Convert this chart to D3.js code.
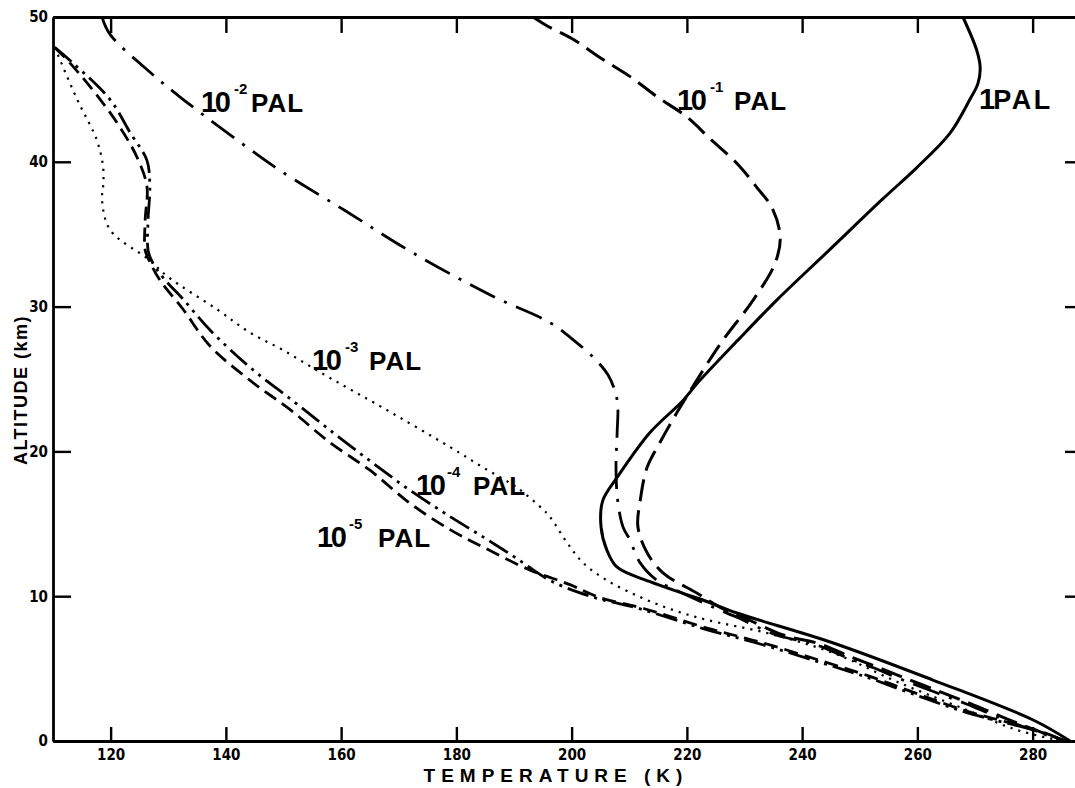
<!DOCTYPE html>
<html>
<head>
<meta charset="utf-8">
<script src="https://cdn.jsdelivr.net/npm/d3@7"></script>
<style>
  html, body { margin: 0; padding: 0; background: #fff; }
  svg { display: block; }
</style>
</head>
<body>
<svg id="chart" width="1075" height="788"></svg>
<script>
// ---- data: [temperature K, altitude km] ----
const pal1 = [[267.9,50],[270.3,47.7],[270.9,46.5],[270.5,45.4],[269.1,44.3],[265.7,42.0],[259.9,39.6],[253.9,37.4],[244.7,33.9],[235.6,30.45],[228.9,27.7],[221.8,24.7],[219.3,23.5],[213.6,21.3],[207.9,18.2],[205.4,16.6],[205.1,14.8],[206.1,13.2],[207.9,12.0],[213.6,11.0],[219.3,10.2],[222.8,9.74],[228.7,8.84],[245.4,6.77],[262.7,4.21],[280.1,1.45],[286.5,0]];
const pal1e1 = [[193.3,50],[195.7,49.4],[200.1,48.5],[204.9,47.2],[210.1,45.9],[214.8,44.5],[220.0,43.1],[224.0,41.6],[228.9,39.8],[232.2,38.2],[234.8,36.8],[236.2,34.8],[235.3,33.0],[231.5,30.45],[226.3,27.7],[222.8,25.6],[218.3,22.7],[215.3,20.6],[213.1,18.9],[211.9,16.6],[211.5,14.8],[213.1,13.0],[215.9,11.6],[221.8,10.2],[225.7,9.25],[230.1,8.49],[236.7,7.32],[243.1,6.70],[248.5,5.80],[253.5,5.04],[258.7,4.21],[264.1,3.38],[269.3,2.56],[274.3,1.73],[279.5,0.90],[285.8,0]];
const pal1e2 = [[118.5,50],[119.9,48.8],[126.8,46.2],[132.6,44.3],[143.7,41.0],[149.4,39.4],[160.8,36.6],[172.5,33.7],[186.4,30.7],[196.2,28.9],[200.6,27.6],[204.0,26.4],[206.3,25.3],[207.5,24.2],[208.0,23.2],[207.9,21.3],[207.7,18.9],[208.0,16.6],[208.9,14.8],[210.1,13.9],[211.9,12.3],[214.8,11.1],[219.3,10.2],[224.5,9.25],[229.0,8.49],[235.5,7.32],[242.0,6.70],[247.5,5.80],[252.5,5.04],[257.5,4.21],[263.0,3.38],[268.5,2.56],[273.5,1.73],[279.0,0.90],[285.4,0]];
const pal1e3 = [[110.3,47.9],[114.2,44.3],[117.6,41.5],[118.7,39.6],[118.7,38.3],[118.5,37.4],[119.9,35.3],[126.8,33.2],[129.8,32.1],[138.5,29.8],[144.2,28.2],[149.9,27.0],[155.8,25.6],[161.5,24.3],[167.3,23.0],[178.9,20.3],[184.6,18.9],[190.5,17.5],[195.0,16.0],[196.2,15.5],[199.2,13.7],[202.0,12.3],[206.1,11.1],[211.9,9.94],[217.6,9.05],[223.5,8.36],[233.9,7.46],[245.4,6.08],[257.0,4.0],[268.6,2.14],[277.3,0.76],[285.1,0]];
const pal1e4 = [[110.3,47.9],[113.5,46.8],[119.9,44.3],[123.4,42.0],[126.3,40.1],[126.8,38.3],[126.5,36.0],[126.5,33.9],[127.2,33.1],[129.1,32.0],[132.6,30.5],[137.2,28.4],[144.2,25.8],[151.6,23.5],[158.6,21.3],[165.5,19.2],[172.0,17.3],[178.9,15.5],[185.0,14.0],[190.5,12.6],[196.2,11.1],[203.2,10.0],[211.9,9.12],[223.1,7.73],[232.7,6.70],[242.4,5.52],[251.1,4.42],[259.2,3.25],[268.3,2.0],[281.3,0.62],[285.6,0]];
const pal1e5 = [[110.3,47.9],[113.0,46.8],[118.2,44.3],[121.6,42.4],[124.6,40.3],[126.3,38.3],[126.0,36.0],[126.0,33.9],[126.8,33.1],[128.6,31.8],[132.6,29.8],[137.2,27.3],[144.2,24.9],[151.1,22.9],[158.1,20.6],[165.0,18.7],[172.0,16.4],[178.9,14.6],[184.6,13.4],[192.8,11.8],[199.7,10.8],[204.9,9.9],[212.5,9.15],[223.5,7.8],[233.0,6.8],[242.8,5.6],[251.5,4.5],[259.6,3.32],[268.6,2.06],[281.4,0.66],[285.6,0]];

const xTicks = [120, 140, 160, 180, 200, 220, 240, 260, 280];
const yTicks = [0, 10, 20, 30, 40, 50];
const xTitle = "TEMPERATURE (K)";
const yTitle = "ALTITUDE (km)";

// ---- layout ----
const svg = d3.select("#chart");
const mLeft = 53, mRight = 1077, mTop = 17, mBottom = 741;
const x = d3.scaleLinear().domain([110, 287.7]).range([mLeft, mRight]);
const y = d3.scaleLinear().domain([0, 50]).range([mBottom, mTop]);

const tickFont = "'Liberation Sans Narrow','DejaVu Sans Condensed','Liberation Sans',sans-serif";
const labelFont = "'Liberation Sans','Arial',sans-serif";

function styleAxis(g) {
  g.select(".domain").attr("stroke", "#000").attr("stroke-width", 2.8);
  g.selectAll(".tick line").attr("stroke", "#000").attr("stroke-width", 2.4);
  g.selectAll(".tick text").attr("fill", "#000").style("font-family", tickFont)
    .style("font-size", "15px").style("font-weight", "bold");
}

svg.append("g").attr("transform", `translate(0,${mBottom})`)
  .call(d3.axisBottom(x).tickValues(xTicks).tickSizeInner(-14).tickSizeOuter(0).tickPadding(8).tickFormat(d3.format("d")))
  .call(styleAxis);
svg.append("g").attr("transform", `translate(0,${mTop})`)
  .call(d3.axisTop(x).tickValues(xTicks).tickSizeInner(-16).tickSizeOuter(0).tickFormat(""))
  .call(styleAxis);
svg.append("g").attr("transform", `translate(${mLeft},0)`)
  .call(d3.axisLeft(y).tickValues(yTicks).tickSizeInner(-18).tickSizeOuter(0).tickPadding(5).tickFormat(d3.format("d")))
  .call(styleAxis);
svg.append("g").attr("transform", `translate(${mRight},0)`)
  .call(d3.axisRight(y).tickValues(yTicks).tickSizeInner(-12).tickSizeOuter(0).tickFormat(""))
  .call(styleAxis);

// ---- curves ----
const line = d3.line().x(d => x(d[0])).y(d => y(d[1])).curve(d3.curveCatmullRom.alpha(0.5));
const series = [
  { data: pal1,   dash: null,              w: 3.0 },
  { data: pal1e1, dash: "22,9",            w: 3.0 },
  { data: pal1e2, dash: "28,10,3,10",      w: 2.8 },
  { data: pal1e3, dash: "2.2,6",           w: 2.2 },
  { data: pal1e4, dash: "22,6,3,6,3,6",    w: 2.8 },
  { data: pal1e5, dash: "14,7",            w: 2.8 }
];
svg.append("g").selectAll("path").data(series).join("path")
  .attr("d", d => line(d.data))
  .attr("fill", "none").attr("stroke", "#000")
  .attr("stroke-width", d => d.w)
  .attr("stroke-dasharray", d => d.dash);

// ---- curve labels (one text each: base, superscript, PAL) ----
const labels = [
  { exp: "-2", bx: 201, by: 112, ex: 234, px: 251 },
  { exp: "-1", bx: 677, by: 110, ex: 710, px: 734 },
  { exp: "-3", bx: 312, by: 370, ex: 345, px: 369 },
  { exp: "-4", bx: 416, by: 495, ex: 447, px: 473 },
  { exp: "-5", bx: 317, by: 547, ex: 349, px: 378 }
];
const lg = svg.append("g").attr("fill", "#000").style("font-family", labelFont).style("font-weight", "bold");
labels.forEach(l => {
  const t = lg.append("text").attr("x", l.bx).attr("y", l.by);
  t.append("tspan").style("font-size", "29px").style("letter-spacing", "-2.5px").text("10");
  t.append("tspan").attr("x", l.ex).attr("dy", -18).style("font-size", "15px").text(l.exp);
  t.append("tspan").attr("x", l.px).attr("dy", 18).style("font-size", "26px").style("letter-spacing", "1px").text("PAL");
});
const t1 = lg.append("text").attr("x", 979).attr("y", 109);
t1.append("tspan").style("font-size", "29px").style("letter-spacing", "-2px").text("1");
t1.append("tspan").style("font-size", "27px").style("letter-spacing", "2.5px").text("PAL");

// ---- axis titles ----
svg.append("text").attr("x", 556).attr("y", 782).attr("text-anchor", "middle")
  .style("font-family", labelFont).style("font-weight", "bold").style("font-size", "19px")
  .style("letter-spacing", "6px").text(xTitle);
svg.append("text").attr("transform", "translate(27,390) rotate(-90)").attr("text-anchor", "middle")
  .style("font-family", labelFont).style("font-weight", "bold").style("font-size", "18px")
  .style("letter-spacing", "1.5px").text(yTitle);
</script>
</body>
</html>
